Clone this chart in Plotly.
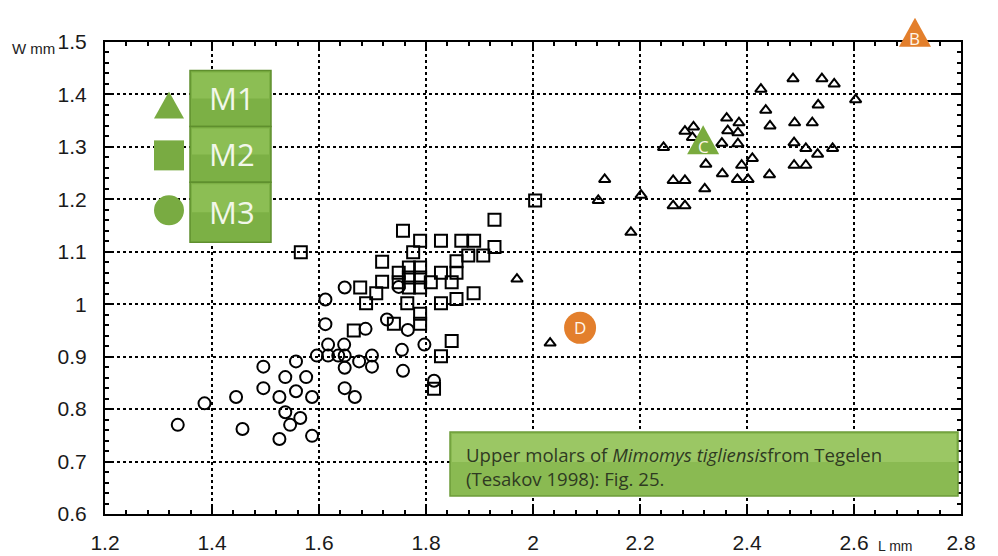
import plotly.graph_objects as go

# ---- data ----
m1_L = [2.486, 2.540, 2.563, 2.426, 2.603, 2.533, 2.435, 2.362, 2.385, 2.443, 2.489, 2.522,
        2.364, 2.383, 2.353, 2.383, 2.488, 2.510, 2.532, 2.560, 2.410, 2.390, 2.488, 2.510,
        2.442, 2.354, 2.382, 2.402, 2.300, 2.284, 2.298, 2.244, 2.323, 2.321, 2.262, 2.284,
        2.262, 2.284, 2.134, 2.122, 2.202, 2.183, 1.970, 2.032]
m1_W = [1.430, 1.430, 1.420, 1.410, 1.390, 1.380, 1.370, 1.355, 1.346, 1.340, 1.346, 1.346,
        1.331, 1.327, 1.307, 1.306, 1.308, 1.297, 1.286, 1.297, 1.278, 1.265, 1.265, 1.265,
        1.247, 1.249, 1.238, 1.238, 1.338, 1.330, 1.318, 1.299, 1.267, 1.220, 1.236, 1.236,
        1.188, 1.188, 1.238, 1.198, 1.208, 1.137, 1.048, 0.926]

m2_L = [1.566, 1.928, 1.757, 1.789, 1.828, 1.866, 1.890, 1.928, 1.776, 1.879, 1.907, 1.718,
        1.857, 1.768, 1.789, 1.749, 1.828, 1.857, 1.768, 1.789, 1.718, 1.749, 1.809, 1.848,
        1.677, 1.768, 1.789, 1.707, 1.889, 1.857, 1.688, 1.765, 1.828, 1.789, 1.789, 1.740,
        1.665, 1.848, 1.828, 1.815, 2.004]
m2_W = [1.099, 1.161, 1.140, 1.121, 1.121, 1.121, 1.121, 1.109, 1.099, 1.093, 1.093, 1.081,
        1.082, 1.070, 1.070, 1.060, 1.060, 1.060, 1.051, 1.051, 1.043, 1.042, 1.042, 1.042,
        1.032, 1.032, 1.032, 1.021, 1.021, 1.010, 1.002, 1.002, 1.002, 0.982, 0.963, 0.963,
        0.950, 0.930, 0.901, 0.839, 1.198]

m3_L = [1.648, 1.612, 1.612, 1.687, 1.727, 1.766, 1.749, 1.617, 1.647, 1.797, 1.755, 1.596,
        1.617, 1.636, 1.648, 1.699, 1.675, 1.699, 1.648, 1.757, 1.557, 1.496, 1.537, 1.576,
        1.496, 1.557, 1.526, 1.587, 1.648, 1.667, 1.445, 1.386, 1.537, 1.565, 1.546, 1.336,
        1.457, 1.526, 1.587, 1.815]
m3_W = [1.032, 1.009, 0.962, 0.953, 0.971, 0.951, 1.033, 0.923, 0.923, 0.923, 0.913, 0.902,
        0.902, 0.902, 0.902, 0.902, 0.891, 0.881, 0.879, 0.873, 0.891, 0.881, 0.861, 0.861,
        0.840, 0.834, 0.823, 0.823, 0.840, 0.823, 0.823, 0.811, 0.794, 0.783, 0.770, 0.770,
        0.762, 0.743, 0.749, 0.854]

# lettered callout markers
tag_text = ["B", "C", "D"]
tag_L = [2.714, 2.318, 2.088]
tag_W = [1.512, 1.307, 0.955]

legend_labels = ["M1", "M2", "M3"]
note_text = "Upper molars of <i>Mimomys tigliensis</i>from Tegelen<br>(Tesakov 1998): Fig. 25."

x_range = [1.2, 2.8]
y_range = [0.6, 1.5]

fig = go.Figure()

def open_trace(xs, ys, symbol, size):
    return go.Scatter(x=xs, y=ys, mode="markers", showlegend=False,
                      marker=dict(symbol=symbol, size=size, color="black",
                                  line=dict(color="black", width=2)))

fig.add_trace(open_trace(m3_L, m3_W, "circle-open", 12))
fig.add_trace(open_trace(m2_L, m2_W, "square-open", 12))
fig.add_trace(open_trace(m1_L, m1_W, "triangle-up-open", 10))

# plot-area pixel geometry helpers (for decorative legend / note box)
L, R, T, B = 105, 961, 41.5, 514
def px(x):
    return (x - L) / (R - L)
def py(y):
    return (B - y) / (B - T)
def w_to_paper(w):
    return (w - y_range[0]) / (y_range[1] - y_range[0])

shapes = []
annotations = []

# lettered callouts (shapes anchored on the data x value, y through the axis range)
tag_colors = ["#e37f2c", "#7aab3e", "#e37f2c"]
tag_kind = ["tri", "tri", "circ"]
for t, x, y, c, k in zip(tag_text, tag_L, tag_W, tag_colors, tag_kind):
    common = dict(xref="x", yref="paper", xsizemode="pixel", ysizemode="pixel",
                  xanchor=x, yanchor=w_to_paper(y), fillcolor=c, line=dict(width=0), layer="above")
    if k == "tri":
        shapes.append(dict(type="path", path="M -16,-11 L 16,-11 L 0,18 Z", **common))
        ty = -3
    else:
        shapes.append(dict(type="circle", x0=-16, x1=16, y0=-16, y1=16, **common))
        ty = 0
    annotations.append(dict(text=t, x=x, y=w_to_paper(y), xref="x", yref="paper", yshift=ty,
                            showarrow=False, xanchor="center", yanchor="middle",
                            font=dict(family="Open Sans", size=17, color="#fff6ea")))

box_rows = [(70, 126), (126, 182), (182, 242)]
for lab, (y0, y1) in zip(legend_labels, box_rows):
    shapes.append(dict(type="rect", xref="paper", yref="paper", x0=px(190), x1=px(271),
                       y0=py(y1), y1=py(y0), fillcolor="#7cb045",
                       line=dict(color="#5f8f2e", width=1.5), layer="above"))
    shapes.append(dict(type="rect", xref="paper", yref="paper", x0=px(192), x1=px(269),
                       y0=py((y0 + y1) / 2), y1=py(y0 + 2), fillcolor="#8cbe54",
                       line=dict(width=0), layer="above"))
    annotations.append(dict(text=lab, xref="paper", yref="paper", x=px(232), y=py((y0 + y1) / 2),
                            xanchor="center", yanchor="middle", showarrow=False,
                            font=dict(family="Open Sans", size=31, color="#f2f7ea")))

# legend glyphs
g = "#79ab42"
shapes.append(dict(type="path", xref="paper", yref="paper", xsizemode="pixel", ysizemode="pixel",
                   xanchor=px(169), yanchor=py(105), path="M -15,-13 L 15,-13 L 0,14 Z",
                   fillcolor=g, line=dict(width=0), layer="above"))
shapes.append(dict(type="rect", xref="paper", yref="paper", xsizemode="pixel", ysizemode="pixel",
                   xanchor=px(169), yanchor=py(155), x0=-15, x1=15, y0=-15, y1=15,
                   fillcolor=g, line=dict(width=0), layer="above"))
shapes.append(dict(type="circle", xref="paper", yref="paper", xsizemode="pixel", ysizemode="pixel",
                   xanchor=px(169), yanchor=py(210), x0=-15, x1=15, y0=-15, y1=15,
                   fillcolor=g, line=dict(width=0), layer="above"))

# note box
shapes.append(dict(type="rect", xref="paper", yref="paper", x0=px(450), x1=px(958),
                   y0=py(496), y1=py(432), fillcolor="#8aba52",
                   line=dict(color="#6e9c3a", width=1.5), layer="above"))
shapes.append(dict(type="rect", xref="paper", yref="paper", x0=px(452), x1=px(956),
                   y0=py(462), y1=py(434), fillcolor="#9bc764",
                   line=dict(width=0), layer="above"))
annotations.append(dict(text=note_text, xref="paper", yref="paper", x=px(464), y=py(466),
                        xanchor="left", yanchor="middle", align="left", showarrow=False,
                        font=dict(family="Open Sans", size=18.6, color="#2f3a22")))

annotations.append(dict(text="W mm", xref="paper", yref="paper", x=px(10), y=py(48),
                        xanchor="left", yanchor="middle", showarrow=False,
                        font=dict(family="Liberation Sans", size=15, color="#222")))
annotations.append(dict(text="L mm", xref="paper", yref="paper", x=px(876), y=py(546),
                        xanchor="left", yanchor="middle", showarrow=False,
                        font=dict(family="Liberation Sans", size=14, color="#222")))

axis_common = dict(showline=True, linecolor="black", linewidth=2, mirror="ticks",
                   showgrid=True, gridcolor="black", gridwidth=2, griddash="dot",
                   zeroline=False, ticks="inside", ticklen=7, tickwidth=2, tickcolor="black",
                   automargin=False,
                   tickfont=dict(family="Liberation Sans", size=21, color="#1a1a1a"))

fig.update_xaxes(range=x_range, dtick=0.2, tick0=1.2, ticklabelstandoff=9,
                 minor=dict(dtick=0.04, ticks="inside", ticklen=4, tickcolor="black", tickwidth=1.5,
                            showgrid=False),
                 **axis_common)
fig.update_yaxes(range=y_range, dtick=0.1, tick0=0.6, ticklabelstandoff=12,
                 minor=dict(dtick=0.02, ticks="inside", ticklen=4, tickcolor="black", tickwidth=1.5,
                            showgrid=False),
                 **axis_common)

fig.update_layout(width=998, height=556, margin=dict(l=L, r=998 - R, t=T, b=556 - B),
                  plot_bgcolor="white", paper_bgcolor="white",
                  shapes=shapes, annotations=annotations, showlegend=False)

fig.write_html("out.html", config={"displayModeBar": False},
               post_script="document.body.style.margin='0px';")
